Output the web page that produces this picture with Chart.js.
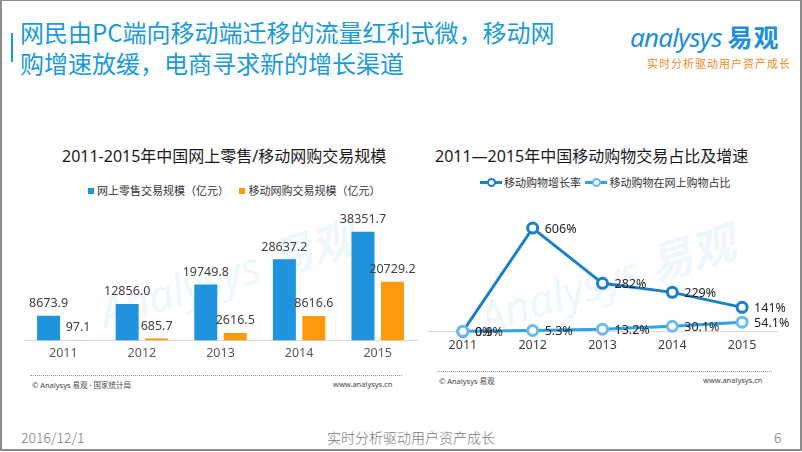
<!DOCTYPE html>
<html><head><meta charset="utf-8">
<script src="https://cdn.jsdelivr.net/npm/chart.js@4.4.1/dist/chart.umd.min.js"></script>
<style>
html,body{margin:0;padding:0;background:#fff;}
body{width:802px;height:452px;position:relative;overflow:hidden;font-family:"Noto Sans","Noto Sans CJK SC",sans-serif;}
#frame{position:absolute;left:0;top:0;width:798px;height:448px;border:2px solid #8c8c8c;border-top-width:1px;}
.abs{position:absolute;white-space:nowrap;}
#bar{left:11px;top:33px;width:2px;height:29px;background:#1a9ad6;}
#t1,#t2{left:20px;font-size:24px;color:#1a9ad6;line-height:30px;font-family:"Noto Sans CJK SC",sans-serif;}
#t1{top:17px;}#t2{top:48px;}
#logo{left:630px;top:18px;font-size:26px;color:#1f8fd8;font-style:italic;font-family:"Noto Sans","Noto Sans CJK SC",sans-serif;letter-spacing:-0.8px;}
#logo b{font-style:normal;font-weight:bold;font-family:"Noto Sans CJK SC";letter-spacing:1px;font-size:25px;}
#tag{left:647px;top:55px;font-size:11px;color:#f08c1e;font-family:"Noto Sans CJK SC";letter-spacing:1px;}
.ctitle{font-size:16px;color:#1a1a1a;font-family:"Noto Sans","Noto Sans CJK SC",sans-serif;}
.leg{font-size:11px;color:#333;font-family:"Noto Sans CJK SC",sans-serif;}
.sq{display:inline-block;width:6px;height:6px;margin-right:3px;vertical-align:1px;}
.ln{display:inline-block;position:relative;width:22px;height:3px;vertical-align:3px;margin-right:2px;}
.ln i{position:absolute;left:7px;top:-3px;width:5px;height:5px;border-radius:50%;background:#fff;border:2px solid;}
.dots{height:0;border-top:1px dotted #999;}
.src{font-size:7.5px;color:#444;font-family:"Noto Sans","Noto Sans CJK SC",sans-serif;}
.foot{font-size:14px;color:#7a7a7a;font-family:"Noto Sans CJK SC",sans-serif;top:427px;font-weight:300;}
.wm{color:#1a9ad6;opacity:0.07;font-size:44px;font-style:italic;transform:rotate(-17deg);transform-origin:left top;font-family:"Noto Sans","Noto Sans CJK SC";}
</style></head>
<body>
<div id="frame"></div>
<div class="abs" id="bar"></div>
<div class="abs" id="t1">网民由PC端向移动端迁移的流量红利式微，移动网</div>
<div class="abs" id="t2">购增速放缓，电商寻求新的增长渠道</div>
<div class="abs" id="logo">analysys <b>易观</b></div>
<div class="abs" id="tag">实时分析驱动用户资产成长</div>

<div class="abs wm" style="left:90px;top:280px;">Analysys <b>易观</b></div>
<div class="abs wm" style="left:470px;top:285px;">Analysys <b>易观</b></div>

<div class="abs ctitle" style="left:62px;top:143px;">2011-2015年中国网上零售/移动网购交易规模</div>
<div class="abs leg" style="left:88px;top:182px;"><span class="sq" style="background:#1f93dd"></span>网上零售交易规模（亿元） <span style="display:inline-block;width:8px"></span><span class="sq" style="background:#fd9a0c"></span>移动网购交易规模（亿元）</div>

<div class="abs ctitle" style="left:435px;top:143px;">2011—2015年中国移动购物交易占比及增速</div>
<div class="abs leg" style="left:480px;top:174px;"><span class="ln" style="background:#1b80c6"><i style="border-color:#1b80c6"></i></span>移动购物增长率 <span class="ln" style="background:#2ea3ec;margin-left:2px"><i style="border-color:#6db9f0"></i></span>移动购物在网上购物占比</div>

<div class="abs" style="left:0;top:200px;width:420px;height:170px;"><canvas id="c1"></canvas></div>
<div class="abs" style="left:420px;top:205px;width:382px;height:157px;"><canvas id="c2"></canvas></div>

<div class="abs dots" style="left:30px;top:375px;width:372px;"></div>
<div class="abs src" style="left:32px;top:379px;">© Analysys 易观 · 国家统计局</div>
<div class="abs src" style="left:333px;top:379px;">www.analysys.cn</div>
<div class="abs dots" style="left:437px;top:371px;width:335px;"></div>
<div class="abs src" style="left:439px;top:375px;">© Analysys 易观</div>
<div class="abs src" style="left:703px;top:375px;">www.analysys.cn</div>

<div class="abs foot" style="left:21px;">2016/12/1</div>
<div class="abs foot" style="left:327px;">实时分析驱动用户资产成长</div>
<div class="abs foot" style="left:774px;">6</div>

<script>
// ---- data ----
const years = ['2011','2012','2013','2014','2015'];
const onlineRetail = [8673.9, 12856.0, 19749.8, 28637.2, 38351.7];   // 亿元
const mobileShopping = [97.1, 685.7, 2616.5, 8616.6, 20729.2];      // 亿元
const mobileGrowth = [0, 606, 282, 229, 141];                        // %
const mobileShare = [0.9, 5.3, 13.2, 30.1, 54.1];                    // %
const growthLabels = ['0%','606%','282%','229%','141%'];
const shareLabels = ['0.9%','5.3%','13.2%','30.1%','54.1%'];

const FONT = '"Noto Sans","Noto Sans CJK SC",sans-serif';

const barLabels = {
  id:'barLabels',
  afterDatasetsDraw(chart){
    const ctx = chart.ctx;
    ctx.save();
    ctx.font = '12.5px ' + FONT;
    ctx.fillStyle = '#404040';
    ctx.textAlign = 'center';
    ctx.textBaseline = 'bottom';
    chart.data.datasets.forEach((ds,i)=>{
      chart.getDatasetMeta(i).data.forEach((el,j)=>{
        ctx.fillText(ds.data[j].toFixed(1), el.x, el.y - 6);
      });
    });
    ctx.restore();
  }
};
const lineLabels = {
  id:'lineLabels',
  afterDatasetsDraw(chart){
    const ctx = chart.ctx;
    ctx.save();
    ctx.font = '12.5px ' + FONT;
    ctx.fillStyle = '#222';
    ctx.textAlign = 'left';
    ctx.textBaseline = 'middle';
    [1,0].forEach(i=>{
      const ds = chart.data.datasets[i];
      chart.getDatasetMeta(i).data.forEach((el,j)=>{
        ctx.fillText(ds.labelsText[j], el.x + 12, el.y + 1);
      });
    });
    ctx.restore();
  }
};

new Chart(document.getElementById('c1'), {
  type:'bar',
  data:{labels:years, datasets:[
    {label:'网上零售交易规模（亿元）', data:onlineRetail, backgroundColor:'#1f93dd', categoryPercentage:0.75, barPercentage:0.78},
    {label:'移动网购交易规模（亿元）', data:mobileShopping, backgroundColor:'#fd9a0c', categoryPercentage:0.75, barPercentage:0.78}
  ]},
  options:{
    responsive:true, maintainAspectRatio:false, animation:false,
    layout:{padding:{left:24,right:3,top:10,bottom:2.6}},
    plugins:{legend:{display:false}, tooltip:{enabled:false}},
    scales:{
      x:{grid:{display:false,drawTicks:false}, border:{display:true,color:'#d9d9d9'},
         ticks:{padding:6,color:'#595959',font:{size:12.5,family:FONT}}},
      y:{display:false,min:0,max:46080}
    }
  },
  plugins:[barLabels]
});

new Chart(document.getElementById('c2'), {
  type:'line',
  data:{labels:years, datasets:[
    {label:'移动购物增长率', data:mobileGrowth, labelsText:growthLabels, order:1,
     borderColor:'#1b80c6', borderWidth:3, pointBackgroundColor:'#fff', pointBorderColor:'#1b80c6',
     pointBorderWidth:3, pointRadius:5, tension:0, clip:false},
    {label:'移动购物在网上购物占比', data:mobileShare, labelsText:shareLabels, order:0,
     borderColor:'#2ea3ec', borderWidth:3, pointBackgroundColor:'#fff', pointBorderColor:'#6db9f0',
     pointBorderWidth:3, pointRadius:5, tension:0, clip:false}
  ]},
  options:{
    responsive:true, maintainAspectRatio:false, animation:false,
    layout:{padding:{left:5,right:25,top:10,bottom:1.6}},
    plugins:{legend:{display:false}, tooltip:{enabled:false}},
    scales:{
      x:{offset:true, grid:{display:false,drawTicks:false}, border:{display:true,color:'#d9d9d9'},
         ticks:{padding:7,color:'#404040',font:{size:12.5,family:FONT}}},
      y:{display:false,min:0,max:683}
    }
  },
  plugins:[lineLabels]
});
</script>
</body></html>
